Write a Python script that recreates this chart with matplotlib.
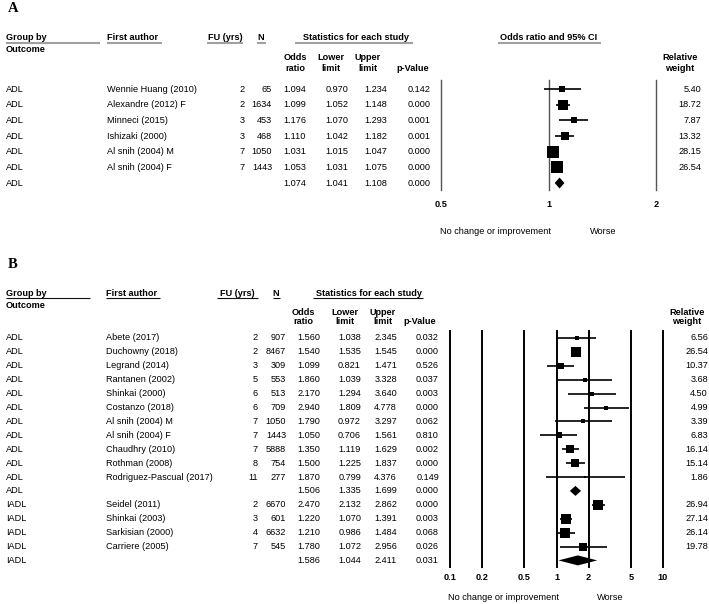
import matplotlib
matplotlib.use("Agg")
import matplotlib.pyplot as plt
import numpy as np
from matplotlib.ticker import NullLocator

plt.rcParams['font.family'] = ['Liberation Sans', 'DejaVu Sans']

# ---- panel A data ----
outcome_a = ["ADL"] * 7
authors_a = ["Wennie Huang (2010)", "Alexandre (2012) F", "Minneci (2015)", "Ishizaki (2000)",
             "Al snih (2004) M", "Al snih (2004) F", ""]
fu_a = ["2", "2", "3", "3", "7", "7", ""]
n_a = ["65", "1634", "453", "468", "1050", "1443", ""]
or_a = [1.094, 1.099, 1.176, 1.110, 1.031, 1.053, 1.074]
lo_a = [0.970, 1.052, 1.070, 1.042, 1.015, 1.031, 1.041]
hi_a = [1.234, 1.148, 1.293, 1.182, 1.047, 1.075, 1.108]
p_a = ["0.142", "0.000", "0.001", "0.001", "0.000", "0.000", "0.000"]
w_a = [5.40, 18.72, 7.87, 13.32, 28.15, 26.54, None]
ticks_a = [0.5, 1, 2]
ticklab_a = ["0.5", "1", "2"]

# ---- panel B data ----
outcome_b = ["ADL"] * 12 + ["IADL"] * 5
authors_b = ["Abete (2017)", "Duchowny (2018)", "Legrand (2014)", "Rantanen (2002)", "Shinkai (2000)",
             "Costanzo (2018)", "Al snih (2004) M", "Al snih (2004) F", "Chaudhry (2010)",
             "Rothman (2008)", "Rodriguez-Pascual (2017)", "", "Seidel (2011)", "Shinkai (2003)",
             "Sarkisian (2000)", "Carriere (2005)", ""]
fu_b = ["2", "2", "3", "5", "6", "6", "7", "7", "7", "8", "11", "", "2", "3", "4", "7", ""]
n_b = ["907", "8467", "309", "553", "513", "709", "1050", "1443", "5888", "754", "277", "",
       "6670", "601", "6632", "545", ""]
or_b = [1.560, 1.540, 1.099, 1.860, 2.170, 2.940, 1.790, 1.050, 1.350, 1.500, 1.870, 1.506,
        2.470, 1.220, 1.210, 1.780, 1.586]
lo_b = [1.038, 1.535, 0.821, 1.039, 1.294, 1.809, 0.972, 0.706, 1.119, 1.225, 0.799, 1.335,
        2.132, 1.070, 0.986, 1.072, 1.044]
hi_b = [2.345, 1.545, 1.471, 3.328, 3.640, 4.778, 3.297, 1.561, 1.629, 1.837, 4.376, 1.699,
        2.862, 1.391, 1.484, 2.956, 2.411]
p_b = ["0.032", "0.000", "0.526", "0.037", "0.003", "0.000", "0.062", "0.810", "0.002", "0.000",
       "0.149", "0.000", "0.000", "0.003", "0.068", "0.026", "0.031"]
w_b = [6.56, 26.54, 10.37, 3.68, 4.50, 4.99, 3.39, 6.83, 16.14, 15.14, 1.86, None,
       26.94, 27.14, 26.14, 19.78, None]
ticks_b = [0.1, 0.2, 0.5, 1, 2, 5, 10]
ticklab_b = ["0.1", "0.2", "0.5", "1", "2", "5", "10"]

W, H = 709, 604
FS = 6.6
TXT = "black"

fig = plt.figure(figsize=(W / 100, H / 100), dpi=100)
bg = fig.add_axes([0, 0, 1, 1])
bg.set_xlim(0, W)
bg.set_ylim(H, 0)
bg.axis("off")


def t(x, y, s, ha="left", bold=False, **kw):
    bg.text(x, y, s, ha=ha, va="center", fontsize=FS, color=TXT,
            fontweight="bold" if bold else "normal", **kw)


def panel(cfg):
    y0, dy = cfg["y0"], cfg["dy"]
    hy = cfg["head_y"]
    # header
    bg.text(8, cfg["lab_y"], cfg["label"], fontsize=10.5, fontweight="bold",
            family="Liberation Serif", va="center", color=TXT)
    for (s, x, ha, x1, x2) in cfg["heads"]:
        t(x, hy, s, ha=ha, bold=True)
        bg.plot([x1, x2], [hy + cfg["ul_off"], hy + cfg["ul_off"]], color=cfg["ul_col"],
                lw=cfg["ul_lw"], solid_capstyle="butt")
    t(6, hy + 13, "Outcome", bold=True)
    for (s, x) in cfg["subs"]:
        t(x, cfg["sub_y"], s, ha="center", bold=True, linespacing=cfg["ls"])
    # table rows
    c = cfg["cols"]
    n = len(cfg["or"])
    for i in range(n):
        y = y0 + i * dy
        t(6, y, cfg["outcome"][i])
        t(c["author"], y, cfg["authors"][i])
        t(c["fu"], y, cfg["fu"][i], ha="right")
        t(c["n"], y, cfg["n"][i], ha="right")
        t(c["or"], y, "%.3f" % cfg["or"][i], ha="right")
        t(c["lo"], y, "%.3f" % cfg["lo"][i], ha="right")
        t(c["hi"], y, "%.3f" % cfg["hi"][i], ha="right")
        t(c["p"], y, cfg["p"][i], ha="right")
        if cfg["w"][i] is not None:
            t(c["w"], y, "%.2f" % cfg["w"][i], ha="right")
    # forest axes
    xl, xr = cfg["fx"]
    yt, yb = cfg["fy"]
    ax = fig.add_axes([xl / W, 1 - yb / H, (xr - xl) / W, (yb - yt) / H])
    ax.set_xscale("log", base=cfg["base"])
    ax.set_xlim(cfg["ticks"][0], cfg["ticks"][-1])
    ax.set_ylim((yb - y0) / dy, (yt - y0) / dy)
    ax.patch.set_alpha(0)
    for s in ax.spines.values():
        s.set_visible(False)
    for tk in cfg["ticks"]:
        ax.axvline(tk, color=cfg["vcol"], lw=cfg["vlw"], clip_on=False)
    ax.set_xticks(cfg["ticks"])
    ax.set_xticklabels(cfg["ticklab"], fontweight="bold", fontsize=FS, color=TXT)
    ax.xaxis.set_minor_locator(NullLocator())
    ax.tick_params(axis="x", length=0, pad=cfg["pad"])
    ax.set_yticks([])
    for i in range(n):
        o, lo, hi, w = cfg["or"][i], cfg["lo"][i], cfg["hi"][i], cfg["w"][i]
        if w is None:
            h = cfg["dh"] / dy
            ax.fill([lo, o, hi, o], [i, i - h, i, i + h], color="black", lw=0)
        else:
            ax.plot([lo, hi], [i, i], color="black", lw=1.2, solid_capstyle="butt")
            ax.plot([o], [i], marker="s", color="black", ms=cfg["k"] * np.sqrt(w) * 0.72, mew=0)
    t(cfg["nc"][0], cfg["nc_y"], "No change or improvement", ha="center")
    t(cfg["nc"][1], cfg["nc_y"], "Worse", ha="center")


cfg_a = dict(label="A", lab_y=9, head_y=37, ul_off=6, ul_col="#a0a0a0", ul_lw=1.5,
             heads=[("Group by", 6, "left", 6, 100), ("First author", 107, "left", 107, 162),
                    ("FU (yrs)", 225, "center", 207, 243), ("N", 261, "center", 257, 266),
                    ("Statistics for each study", 356, "center", 295, 413),
                    ("Odds ratio and 95% CI", 549, "center", 498, 601)],
             sub_y=63, ls=1.3,
             subs=[("Odds\nratio", 295), ("Lower\nlimit", 331), ("Upper\nlimit", 368),
                   ("\np-Value", 413), ("Relative\nweight", 680)],
             y0=89, dy=15.67,
             cols=dict(author=107, fu=245, n=272, **{"or": 306}, lo=348, hi=387, p=431, w=701),
             outcome=outcome_a, authors=authors_a, fu=fu_a, n=n_a, p=p_a, w=w_a,
             fx=(441, 656), fy=(80, 190), base=2, ticks=ticks_a, ticklab=ticklab_a,
             vcol="#555555", vlw=1.0, pad=7.5, k=2.26, dh=5.5, nc=(495, 603), nc_y=232)
cfg_a["or"], cfg_a["lo"], cfg_a["hi"] = or_a, lo_a, hi_a

cfg_b = dict(label="B", lab_y=264, head_y=293, ul_off=5, ul_col="#111111", ul_lw=0.8,
             heads=[("Group by", 6, "left", 6, 90), ("First author", 106, "left", 106, 160),
                    ("FU (yrs)", 237, "center", 217, 258), ("N", 276, "center", 273, 280),
                    ("Statistics for each study", 369, "center", 313, 423)],
             sub_y=317, ls=1.1,
             subs=[("Odds\nratio", 303), ("Lower\nlimit", 345), ("Upper\nlimit", 383),
                   ("\np-Value", 420), ("Relative\nweight", 687)],
             y0=338, dy=13.9,
             cols=dict(author=106, fu=258, n=286, **{"or": 320}, lo=361, hi=397, p=439, w=708),
             outcome=outcome_b, authors=authors_b, fu=fu_b, n=n_b, p=p_b, w=w_b,
             fx=(450, 663), fy=(331, 567), base=10, ticks=ticks_b, ticklab=ticklab_b,
             vcol="black", vlw=1.4, pad=4.5, k=1.94, dh=5.0, nc=(503, 610), nc_y=597)
cfg_b["or"], cfg_b["lo"], cfg_b["hi"] = or_b, lo_b, hi_b

panel(cfg_a)
panel(cfg_b)

fig.savefig("out.png", dpi=100)
